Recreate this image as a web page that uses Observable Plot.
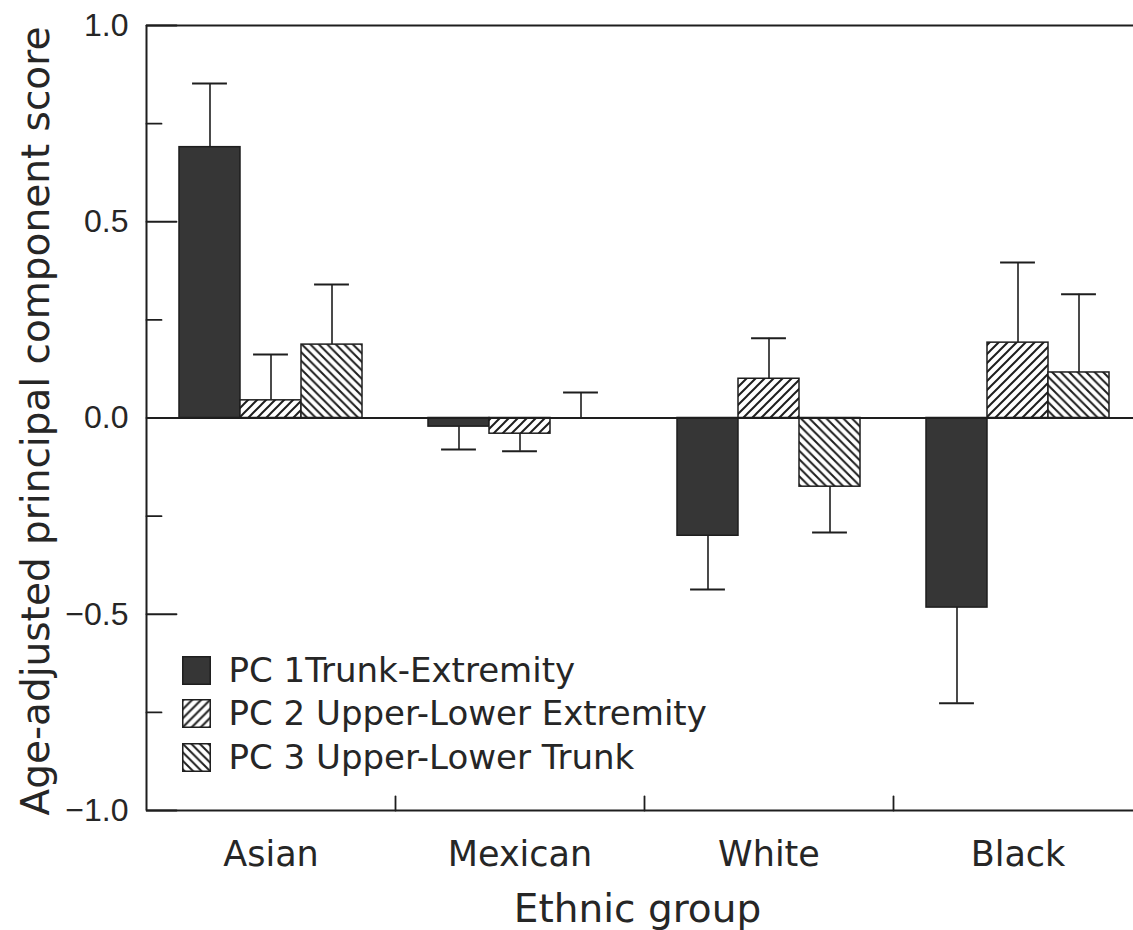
<!DOCTYPE html>
<html>
<head>
<meta charset="utf-8">
<script src="https://cdn.jsdelivr.net/npm/d3@7"></script>
<script src="https://cdn.jsdelivr.net/npm/@observablehq/plot@0.6"></script>
<style>
  html, body { margin: 0; padding: 0; background: #fff; overflow: hidden; }
  #chart { width: 1133px; height: 930px; overflow: hidden; }
  #chart svg { max-width: none !important; }
</style>
</head>
<body>
<div id="chart"></div>
<script>
// ---- Data ----
const groups = ["Asian", "Mexican", "White", "Black"];
const seriesNames = [
  "PC 1Trunk-Extremity",
  "PC 2 Upper-Lower Extremity",
  "PC 3 Upper-Lower Trunk"
];
const pc1 = [0.69, -0.022, -0.30, -0.483];
const pc1Err = [0.852, -0.08, -0.437, -0.727];
const pc2 = [0.045, -0.04, 0.10, 0.192];
const pc2Err = [0.162, -0.085, 0.203, 0.396];
const pc3 = [0.187, 0.0, -0.175, 0.116];
const pc3Err = [0.34, 0.065, -0.292, 0.315];
const yMajorTicks = [-1, -0.5, 0, 0.5, 1];
const yMinorTicks = [-0.75, -0.25, 0.25, 0.75];
const yTickLabels = ["\u22121.0", "\u22120.5", "0.0", "0.5", "1.0"];
const groupBoundaries = [1, 2, 3];
const yTitle = "Age-adjusted principal component score";
const xTitle = "Ethnic group";

// ---- Build table ----
const values = [pc1, pc2, pc3];
const errs = [pc1Err, pc2Err, pc3Err];
const barW = 0.245;
const rows = [];
groups.forEach((g, gi) => {
  seriesNames.forEach((s, si) => {
    const c = gi + 0.5 + (si - 1) * barW;
    rows.push({group: g, series: s, center: c, x1: c - barW / 2, x2: c + barW / 2,
               value: values[si][gi], err: errs[si][gi]});
  });
});

const fills = ["#363636", "url(#hatchUp)", "url(#hatchDown)"];
const ink = "#1e1e1e";

const legendMarks = [];
seriesNames.forEach((s, i) => {
  const dy = [645, 688, 732][i];
  legendMarks.push(Plot.dot([s], {frameAnchor: "top-left", dx: 50, dy, symbol: "square", r: 15.5,
    fill: fills[i], stroke: ink, strokeWidth: 1.5}));
  legendMarks.push(Plot.text([s], {frameAnchor: "top-left", dx: 82, dy: dy + 1, text: d => d,
    textAnchor: "start", lineAnchor: "middle", fontSize: 34, fill: "#262626"}));
});

const tickShapeUp = {draw(ctx, l) { ctx.moveTo(0, 0); ctx.lineTo(0, -l); }};

const plot = Plot.plot({
  width: 1160,
  height: 930,
  marginLeft: 146,
  marginRight: 18,
  marginTop: 25,
  marginBottom: 120,
  style: {fontFamily: "'DejaVu Sans', sans-serif", background: "white", color: "#262626"},
  x: {domain: [0, 4], axis: null},
  y: {domain: [-1, 1], axis: null},
  color: {domain: seriesNames, range: fills},
  marks: [
    // frame lines
    Plot.ruleY([1, -1], {stroke: ink, strokeWidth: 2}),
    Plot.ruleX([0], {y1: -1, y2: 1, stroke: ink, strokeWidth: 2}),
    // y ticks pointing inward
    Plot.vector(yMajorTicks, {x: 0, y: d => d, length: 30, rotate: 90, anchor: "start",
      shape: tickShapeUp, stroke: ink, strokeWidth: 1.8}),
    Plot.vector(yMinorTicks, {x: 0, y: d => d, length: 15, rotate: 90, anchor: "start",
      shape: tickShapeUp, stroke: ink, strokeWidth: 1.8}),
    Plot.text(yMajorTicks, {x: 0, y: d => d, text: (d, i) => yTickLabels[i], textAnchor: "end",
      dx: -18, fontSize: 32, fontFamily: "'Liberation Sans', Arial, sans-serif", fill: "#262626"}),
    // x boundary ticks pointing up
    Plot.vector(groupBoundaries, {x: d => d, y: -1, length: 14, rotate: 0, anchor: "start",
      shape: tickShapeUp, stroke: ink, strokeWidth: 1.8}),
    // group labels
    Plot.text(groups, {x: (d, i) => i + 0.5, y: -1, text: d => d, lineAnchor: "top", dy: 31,
      fontSize: 35, fill: "#262626"}),
    // axis titles
    Plot.text([xTitle], {frameAnchor: "bottom", text: d => d, textAnchor: "middle", lineAnchor: "top",
      dx: -7, dy: 84, fontSize: 39, fill: "#262626"}),
    Plot.text([yTitle], {frameAnchor: "left", text: d => d, rotate: -90, textAnchor: "middle",
      lineAnchor: "bottom", dx: -98, dy: 3, fontSize: 39, fill: "#262626"}),
    // error bars
    Plot.ruleX(rows, {x: "center", y1: "value", y2: "err", stroke: ink, strokeWidth: 1.6}),
    Plot.ruleY(rows, {y: "err", x1: d => d.center - 0.07, x2: d => d.center + 0.07, stroke: ink, strokeWidth: 2}),
    // bars
    Plot.rect(rows, {x1: "x1", x2: "x2", y1: () => 0, y2: "value", fill: "series",
      stroke: ink, strokeWidth: 1.5}),
    // zero line
    Plot.ruleY([0], {stroke: ink, strokeWidth: 1.8}),
    ...legendMarks
  ]
});

const defs = `
<defs>
  <pattern id="hatchUp" patternUnits="userSpaceOnUse" width="9" height="9">
    <rect width="9" height="9" fill="white"/>
    <path d="M-1,1 l2,-2 M0,9 l9,-9 M8,10 l2,-2" stroke="#1e1e1e" stroke-width="2"/>
  </pattern>
  <pattern id="hatchDown" patternUnits="userSpaceOnUse" width="8.5" height="8.5">
    <rect width="8.5" height="8.5" fill="white"/>
    <path d="M-1,7.5 l2,2 M0,0 l8.5,8.5 M7.5,-1 l2,2" stroke="#1e1e1e" stroke-width="2"/>
  </pattern>
</defs>`;
plot.insertAdjacentHTML("afterbegin", defs);
plot.style.maxWidth = "none";
document.getElementById("chart").appendChild(plot);
</script>
</body>
</html>
